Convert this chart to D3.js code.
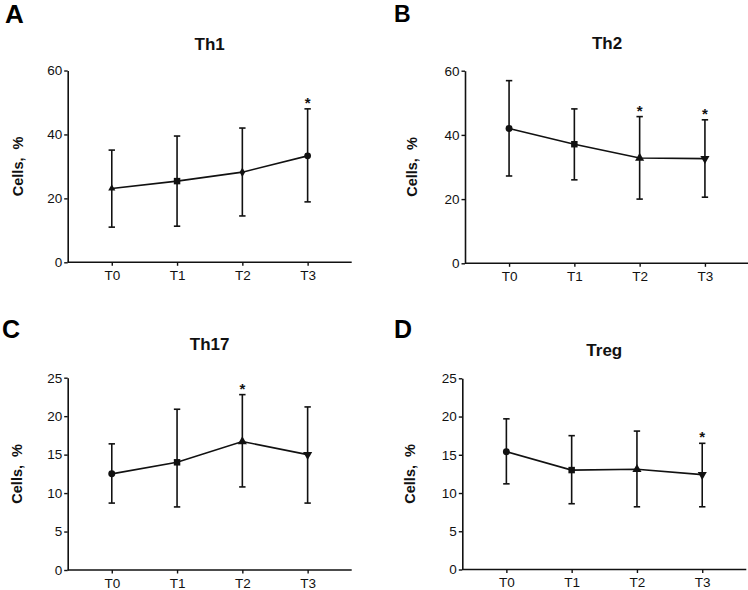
<!DOCTYPE html>
<html>
<head>
<meta charset="utf-8">
<script src="https://cdn.jsdelivr.net/npm/d3@7"></script>
<style>
  body { margin: 0; background: #fff; }
  svg { display: block; }
</style>
</head>
<body>
<div id="chart"></div>
<script>
/* Data */
var timepoints = ["T0", "T1", "T2", "T3"];

var th1Mean  = [23.1, 25.4, 28.2, 33.3];
var th1Upper = [35.1, 39.5, 42.0, 48.0];
var th1Lower = [11.0, 11.3, 14.5, 18.9];

var th2Mean  = [42.0, 37.1, 32.8, 32.6];
var th2Upper = [56.9, 48.1, 45.7, 44.7];
var th2Lower = [27.2, 26.0, 20.0, 20.6];

var th17Mean  = [12.5, 14.0, 16.7, 15.0];
var th17Upper = [16.4, 20.9, 22.8, 21.2];
var th17Lower = [8.7, 8.2, 10.8, 8.7];

var tregMean  = [15.4, 13.0, 13.1, 12.4];
var tregUpper = [19.7, 17.5, 18.1, 16.5];
var tregLower = [11.2, 8.6, 8.2, 8.2];

var panelLetters = ["A", "B", "C", "D"];
var panelTitles = ["Th1", "Th2", "Th17", "Treg"];
var yMaxes = [60, 60, 25, 25];
var yTickLists = [[0, 20, 40, 60], [0, 20, 40, 60], [0, 5, 10, 15, 20, 25], [0, 5, 10, 15, 20, 25]];
var significant = [["T3"], ["T2", "T3"], ["T2"], ["T3"]];

var means = [th1Mean, th2Mean, th17Mean, tregMean];
var uppers = [th1Upper, th2Upper, th17Upper, tregUpper];
var lowers = [th1Lower, th2Lower, th17Lower, tregLower];

// marker shapes per panel, per timepoint
var markerSets = [
    ["triangle", "square", "diamond", "circle"],
    ["circle", "square", "triangle", "triangleDown"],
    ["circle", "square", "triangle", "triangleDown"],
    ["circle", "square", "triangle", "triangleDown"]
];

/* Layout of the four panels (axis origin, size, text positions) */
var layout = [
    {x: 67.7, top: 70.5, bottom: 262.3, letterX: 5,   letterY: 22.7, letterSize: 26, titleY: 49.5, labelX: 19.5},
    {x: 465,  top: 70.7, bottom: 263.3, letterX: 394, letterY: 22, letterSize: 23, titleY: 48.5, labelX: 413},
    {x: 67.7, top: 377.7, bottom: 570,  letterX: 2,   letterY: 337.7, letterSize: 25, titleY: 350, labelX: 18},
    {x: 462.3, top: 378.3, bottom: 569.5, letterX: 394, letterY: 337.7, letterSize: 25, titleY: 356, labelX: 411.5}
];
var axisWidth = 284;
var font = "Liberation Sans, Arial, sans-serif";

var svg = d3.select("#chart")
    .append("svg")
    .attr("width", 748)
    .attr("height", 590);

for (var p = 0; p < 4; p++) {
    drawPanel(p);
}

/*
 * draw one panel of the figure
 * p: index of the panel
 */
function drawPanel(p) {
    var L = layout[p];
    var g = svg.append("g");

    var x = d3.scalePoint()
        .domain(timepoints)
        .range([L.x, L.x + axisWidth])
        .padding(0.675);
    var y = d3.scaleLinear()
        .domain([0, yMaxes[p]])
        .range([L.bottom, L.top]);

    var rows = timepoints.map(function(t, i) {
        return {t: t, mean: means[p][i], hi: uppers[p][i], lo: lowers[p][i], shape: markerSets[p][i]};
    });

    // axes
    var yAxis = g.append("g")
        .attr("transform", "translate(" + L.x + ",0)")
        .call(d3.axisLeft(y).tickValues(yTickLists[p]).tickSize(3.5).tickPadding(2).tickSizeOuter(0));
    var xAxis = g.append("g")
        .attr("transform", "translate(0," + L.bottom + ")")
        .call(d3.axisBottom(x).tickSize(3.5).tickPadding(4.5).tickSizeOuter(0));
    [yAxis, xAxis].forEach(function(a) {
        a.select(".domain").attr("stroke", "#111").attr("stroke-width", 1.6);
        a.selectAll(".tick line").attr("stroke", "#111").attr("stroke-width", 1.4);
        a.selectAll(".tick text")
            .attr("font-family", font)
            .attr("font-size", 13.5)
            .attr("fill", "#111");
    });
    // x axis line runs from the y axis to the panel's right end
    xAxis.select(".domain").attr("d", "M" + L.x + ",0H" + (L.x + axisWidth));

    // error bars
    var eb = g.selectAll(".err").data(rows).enter().append("g").attr("class", "err");
    eb.append("line")
        .attr("x1", function(d) { return x(d.t); })
        .attr("x2", function(d) { return x(d.t); })
        .attr("y1", function(d) { return y(d.lo); })
        .attr("y2", function(d) { return y(d.hi); })
        .attr("stroke", "#111").attr("stroke-width", 1.6);
    eb.append("line")
        .attr("x1", function(d) { return x(d.t) - 3.2; })
        .attr("x2", function(d) { return x(d.t) + 3.2; })
        .attr("y1", function(d) { return y(d.hi); })
        .attr("y2", function(d) { return y(d.hi); })
        .attr("stroke", "#111").attr("stroke-width", 1.6);
    eb.append("line")
        .attr("x1", function(d) { return x(d.t) - 3.2; })
        .attr("x2", function(d) { return x(d.t) + 3.2; })
        .attr("y1", function(d) { return y(d.lo); })
        .attr("y2", function(d) { return y(d.lo); })
        .attr("stroke", "#111").attr("stroke-width", 1.6);

    // mean line
    g.append("path")
        .datum(rows)
        .attr("fill", "none")
        .attr("stroke", "#111")
        .attr("stroke-width", 1.6)
        .attr("d", d3.line().x(function(d) { return x(d.t); }).y(function(d) { return y(d.mean); }));

    // markers
    g.selectAll(".marker").data(rows).enter().append("path")
        .attr("class", "marker")
        .attr("fill", "#111")
        .attr("transform", function(d) {
            var r = d.shape == "triangleDown" ? " rotate(180)" : "";
            return "translate(" + x(d.t) + "," + y(d.mean) + ")" + r;
        })
        .attr("d", function(d) {
            var type = d3.symbolCircle, size = 38;
            if (d.shape == "square") { type = d3.symbolSquare; size = 42; }
            if (d.shape == "triangle" || d.shape == "triangleDown") { type = d3.symbolTriangle; size = 36; }
            if (d.shape == "diamond") { type = d3.symbolDiamond; size = 26; }
            if (p == 0 && d.shape == "triangle") { size = 22; }
            if (p == 0 && d.shape == "circle") { size = 36; }
            return d3.symbol().type(type).size(size)();
        });

    // significance stars
    g.selectAll(".star").data(rows.filter(function(d) { return significant[p].indexOf(d.t) >= 0; }))
        .enter().append("text")
        .attr("class", "star")
        .attr("x", function(d) { return x(d.t); })
        .attr("y", function(d) { return y(d.hi) - 1; })
        .attr("text-anchor", "middle")
        .style("font-family", font)
        .style("font-weight", "bold")
        .style("font-size", "15px")
        .style("fill", "#111")
        .text("*");

    // title
    g.append("text")
        .attr("x", L.x + axisWidth / 2)
        .attr("y", L.titleY)
        .attr("text-anchor", "middle")
        .style("font-family", font)
        .style("font-weight", "bold")
        .style("font-size", "17px")
        .style("fill", "#111")
        .text(panelTitles[p]);

    // y label
    g.append("text")
        .attr("transform", "translate(" + L.labelX + "," + (L.top + L.bottom) / 2 + ") rotate(-90)")
        .attr("text-anchor", "middle")
        .attr("dominant-baseline", "middle")
        .style("font-family", font)
        .style("font-weight", "bold")
        .style("font-size", "14.5px")
        .style("white-space", "pre")
        .style("fill", "#111")
        .text("Cells,  %");

    // panel letter
    g.append("text")
        .attr("x", L.letterX)
        .attr("y", L.letterY)
        .style("font-family", font)
        .style("font-weight", "bold")
        .style("font-size", L.letterSize + "px")
        .style("fill", "#000")
        .text(panelLetters[p]);
}
</script>
</body>
</html>
